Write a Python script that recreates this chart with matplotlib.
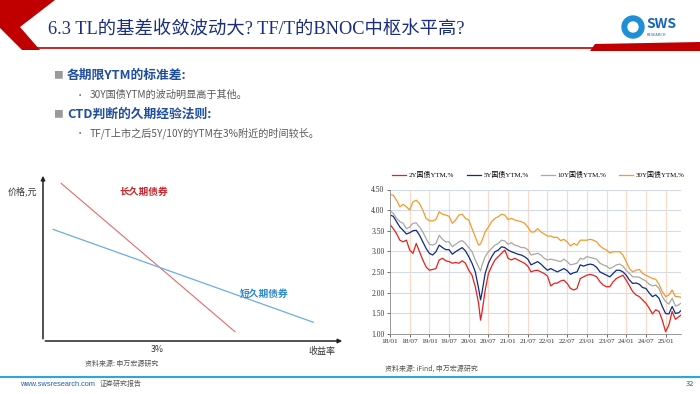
import matplotlib
matplotlib.use("Agg")
import matplotlib.pyplot as plt
from matplotlib.patches import Polygon, Circle

plt.rcParams['font.family'] = ['Noto Sans CJK SC', 'DejaVu Sans']
SERIF = ['Liberation Serif', 'Noto Sans CJK SC']

W, H = 700, 394

# ---- left schematic: price vs yield ----
long_x = [0.46, 4.88]
long_y = [95, 5.6]
short_x = [0.26, 6.87]
short_y = [67.2, 11.3]

# ---- right chart: YTM of CGBs (month index since 2018/01) ----
months = [0, 1, 2, 3, 4, 5, 6, 7, 8, 9, 10, 11, 12, 13, 14, 15, 16, 17, 18, 19,
          20, 21, 22, 23, 24, 25, 26, 27, 27.6, 28, 29, 30, 31, 32, 33, 34, 35, 36, 37, 38,
          39, 40, 41, 42, 43, 44, 45, 46, 47, 48, 49, 50, 51, 52, 53, 54, 55, 56, 57,
          58, 59, 60, 61, 62, 63, 64, 65, 66, 67, 68, 69, 70, 71, 72, 73, 74, 75, 76,
          77, 78, 79, 80, 81, 82, 83, 84, 85, 86, 87, 88, 88.7]

ytm_2y = [3.65, 3.55, 3.43, 3.27, 3.23, 3.27, 3.03, 2.95, 3.19, 2.99, 2.79, 2.62, 2.54, 2.56,
          2.58, 2.79, 2.83, 2.77, 2.75, 2.71, 2.73, 2.71, 2.77, 2.71, 2.54, 2.42, 2.14, 1.74,
          1.33, 1.50, 2.05, 2.46, 2.64, 2.79, 2.87, 2.95, 3.03, 2.83, 2.79, 2.83, 2.79, 2.75,
          2.71, 2.64, 2.50, 2.53, 2.54, 2.50, 2.46, 2.40, 2.16, 2.22, 2.23, 2.28, 2.30, 2.22,
          2.10, 2.06, 2.10, 2.34, 2.38, 2.42, 2.44, 2.42, 2.38, 2.26, 2.18, 2.14, 2.14, 2.26,
          2.34, 2.38, 2.42, 2.30, 2.16, 2.02, 1.94, 1.90, 1.82, 1.74, 1.62, 1.48, 1.58, 1.54,
          1.33, 1.05, 1.21, 1.54, 1.35, 1.41, 1.45]
ytm_5y = [3.88, 3.85, 3.72, 3.59, 3.51, 3.42, 3.45, 3.50, 3.51, 3.39, 3.23, 3.07, 2.95, 2.91,
          2.99, 3.15, 3.09, 3.04, 3.04, 2.93, 2.99, 3.04, 3.09, 3.01, 2.87, 2.71, 2.50, 2.10,
          1.82, 1.98, 2.46, 2.71, 2.87, 2.99, 3.03, 3.11, 3.09, 3.03, 2.99, 2.96, 2.93, 2.91,
          2.87, 2.81, 2.67, 2.71, 2.75, 2.69, 2.61, 2.54, 2.58, 2.54, 2.50, 2.54, 2.58, 2.53,
          2.44, 2.48, 2.50, 2.67, 2.64, 2.67, 2.69, 2.67, 2.61, 2.50, 2.46, 2.42, 2.38, 2.46,
          2.54, 2.54, 2.50, 2.42, 2.30, 2.22, 2.23, 2.20, 2.12, 2.10, 1.99, 1.90, 1.94, 1.86,
          1.66, 1.49, 1.48, 1.66, 1.49, 1.51, 1.56]
ytm_10y = [3.98, 3.92, 3.80, 3.72, 3.68, 3.55, 3.59, 3.68, 3.69, 3.59, 3.47, 3.31, 3.17, 3.15,
           3.19, 3.39, 3.29, 3.23, 3.23, 3.11, 3.17, 3.23, 3.26, 3.19, 3.09, 2.99, 2.79, 2.62,
           2.52, 2.65, 2.87, 2.99, 3.07, 3.15, 3.19, 3.27, 3.25, 3.17, 3.21, 3.15, 3.13, 3.09,
           3.09, 3.04, 2.91, 2.93, 2.95, 2.91, 2.83, 2.79, 2.81, 2.79, 2.77, 2.75, 2.81, 2.75,
           2.67, 2.69, 2.71, 2.83, 2.81, 2.87, 2.85, 2.83, 2.81, 2.71, 2.67, 2.64, 2.58, 2.62,
           2.67, 2.69, 2.64, 2.54, 2.46, 2.38, 2.38, 2.37, 2.32, 2.28, 2.20, 2.16, 2.18, 2.10,
           1.90, 1.78, 1.72, 1.86, 1.67, 1.70, 1.74]
ytm_30y = [4.38, 4.36, 4.24, 4.08, 4.14, 4.08, 4.00, 4.20, 4.24, 4.16, 4.00, 3.80, 3.74, 3.74,
           3.77, 3.96, 3.90, 3.88, 3.85, 3.68, 3.76, 3.88, 3.90, 3.80, 3.76, 3.55, 3.35, 3.15,
           3.18, 3.25, 3.47, 3.59, 3.72, 3.80, 3.84, 3.90, 3.88, 3.77, 3.80, 3.76, 3.74, 3.72,
           3.68, 3.59, 3.47, 3.47, 3.55, 3.47, 3.42, 3.37, 3.37, 3.34, 3.34, 3.26, 3.29, 3.23,
           3.13, 3.19, 3.15, 3.27, 3.27, 3.27, 3.29, 3.27, 3.23, 3.13, 3.07, 3.03, 2.96, 2.99,
           2.99, 2.99, 2.91, 2.75, 2.58, 2.50, 2.54, 2.56, 2.46, 2.42, 2.38, 2.34, 2.32, 2.20,
           2.02, 1.90, 1.94, 2.06, 1.90, 1.90, 1.88]

tick_months = [0, 6, 12, 18, 24, 30, 36, 42, 48, 54, 60, 66, 72, 78, 84]
tick_labels = ['18/01', '18/07', '19/01', '19/07', '20/01', '20/07', '21/01', '21/07',
               '22/01', '22/07', '23/01', '23/07', '24/01', '24/07', '25/01']
y_ticks = [1.0, 1.5, 2.0, 2.5, 3.0, 3.5, 4.0, 4.5]

series = [('2Y国债YTM,%', ytm_2y, '#E4211C'),
          ('5Y国债YTM,%', ytm_5y, '#0E2A86'),
          ('10Y国债YTM,%', ytm_10y, '#A8A8A8'),
          ('30Y国债YTM,%', ytm_30y, '#F7982C')]


def rect(x0, y0, x1, y1):
    return [x0 / W, 1 - y1 / H, (x1 - x0) / W, (y1 - y0) / H]


fig = plt.figure(figsize=(7, 3.94), dpi=100)
bg = fig.add_axes([0, 0, 1, 1])
bg.set_xlim(0, W)
bg.set_ylim(H, 0)
bg.axis('off')

# header
bg.add_patch(Polygon([(0, 0), (55, 0), (20, 27), (40, 50), (22, 50), (0, 28)],
                     closed=True, color='#C00000', lw=0))
bg.plot([30, 600], [48, 48], color='#C00000', lw=1.2)
bg.add_patch(Polygon([(595, 44), (700, 42), (700, 51), (590, 51)], closed=True,
                     color='#C00000', lw=0))
bg.text(48, 30, '6.3 TL的基差收敛波动大? TF/T的BNOC中枢水平高?', fontsize=13.2,
        color='#1B2D7F', va='center', family=SERIF)

# logo
bg.add_patch(Circle((633, 27), 11, color='#1E8FD5'))
bg.add_patch(Circle((633, 27), 5, color='white'))
bg.text(646, 24, 'SWS', fontsize=10, fontweight='bold', color='#1565B8', va='center')
bg.text(647, 35, 'RESEARCH', fontsize=2.8, color='#1565B8', va='center')

# bullets
bg.text(53, 75, '■', fontsize=7, color='#9A9A9A', va='center')
bg.text(67, 75, '各期限YTM的标准差:', fontsize=9.2, fontweight='bold', color='#1F4E9E', va='center')
bg.text(76, 95, '•', fontsize=6, color='#595959', va='center')
bg.text(90, 95, '30Y国债YTM的波动明显高于其他。', fontsize=7.3, color='#595959', va='center')
bg.text(53, 114, '■', fontsize=7, color='#9A9A9A', va='center')
bg.text(67, 114, 'CTD判断的久期经验法则:', fontsize=9.2, fontweight='bold', color='#1F4E9E', va='center')
bg.text(76, 133, '•', fontsize=6, color='#595959', va='center')
bg.text(90, 133, 'TF/T上市之后5Y/10Y的YTM在3%附近的时间较长。', fontsize=7.3, color='#595959', va='center')

# left chart axes arrows
bg.annotate('', xy=(43, 173), xytext=(43, 341.5),
            arrowprops=dict(arrowstyle='-|>', lw=1.1, color='#222222', mutation_scale=6))
bg.annotate('', xy=(345, 341), xytext=(42.5, 341),
            arrowprops=dict(arrowstyle='-|>', lw=1.1, color='#222222', mutation_scale=6))
bg.text(8, 191, '价格,元', fontsize=6.5, color='#333333', va='center')
bg.text(157, 349, '3%', fontsize=6.3, color='#333333', ha='center', va='center')
bg.text(322, 351, '收益率', fontsize=6.5, color='#333333', ha='center', va='center')
bg.text(85, 364, '资料来源: 申万宏源研究', fontsize=5, color='#555555', va='center')

ax1 = fig.add_axes(rect(43, 175, 342, 341))
ax1.plot(long_x, long_y, color='#E8696B', lw=0.8)
ax1.plot(short_x, short_y, color='#6AAEE3', lw=0.9)
ax1.set_xlim(0, 7.6)
ax1.set_ylim(0, 100)
ax1.axis('off')
ax1.text(1.95, 89.5, '长久期债券', fontsize=7, fontweight='bold', color='#C8282E', va='center')
ax1.text(5.0, 28.5, '短久期债券', fontsize=7, fontweight='bold', color='#2C8AD0', va='center')

# right chart
ax2 = fig.add_axes(rect(390, 189.5, 681, 333.7))
for lbl, vals, col in series:
    ax2.plot(months, vals, color=col, lw=0.9, label=lbl)
ax2.set_xlim(0, 88.7)
ax2.set_ylim(1.0, 4.5)
ax2.set_yticks(y_ticks)
ax2.set_yticklabels(['%.2f' % v for v in y_ticks], family=SERIF, fontsize=5.5)
ax2.set_xticks(tick_months)
ax2.set_xticklabels(tick_labels, family=SERIF, fontsize=5.3)
ax2.tick_params(length=2, width=0.5, colors='#333333', pad=2)
ax2.grid(axis='y', color='#D3DCEE', lw=0.8)
for m in tick_months[1:]:
    ax2.axvline(m, color='#FBD9C6', lw=0.8, zorder=0)
ax2.set_axisbelow(True)
for s in ['top', 'right']:
    ax2.spines[s].set_visible(False)
ax2.spines['left'].set_color('#888888')
ax2.spines['bottom'].set_color('#888888')
ax2.spines['left'].set_linewidth(0.6)
ax2.spines['bottom'].set_linewidth(0.6)
ax2.legend(loc='lower center', bbox_to_anchor=(0.51, 1.06), ncol=4, frameon=False,
           prop={'family': SERIF, 'size': 5}, handlelength=2.0, columnspacing=1.8,
           handletextpad=0.4, borderaxespad=0)
bg.text(385, 369, '资料来源: iFind, 申万宏源研究', fontsize=5, color='#555555', va='center')

# footer
bg.plot([0, 700], [377, 377], color='#2BA6DF', lw=1.5)
bg.text(20, 384, 'www.swsresearch.com', fontsize=5.3, color='#1F5FAF', va='center',
        family=['Liberation Sans'])
bg.text(100, 384, '证券研究报告', fontsize=5, color='#555555', va='center')
bg.text(686, 384, '32', fontsize=5.5, color='#1F5FAF', va='center')

fig.savefig('out.png', dpi=100)
